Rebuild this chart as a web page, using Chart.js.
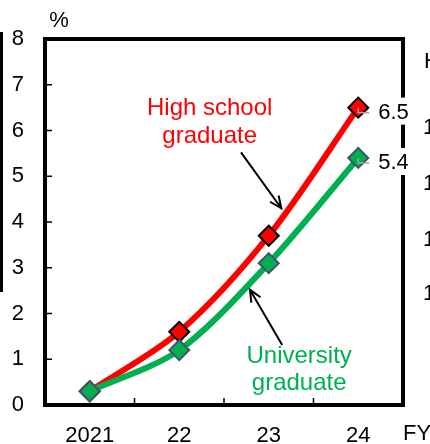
<!DOCTYPE html>
<html>
<head>
<meta charset="utf-8">
<script src="https://cdn.jsdelivr.net/npm/chart.js@4/dist/chart.umd.min.js"></script>
<style>
  html, body { margin: 0; padding: 0; background: #fff; }
  #wrap { position: relative; width: 430px; height: 444px; }
</style>
</head>
<body>
<div id="wrap"><canvas id="c"></canvas></div>
<script>
// ---- data ----
const categories = ['2021', '22', '23', '24'];
const highSchool = [0.3, 1.6, 3.7, 6.5];
const university = [0.3, 1.2, 3.1, 5.4];
const yTickValues = [0, 1, 2, 3, 4, 5, 6, 7, 8];
const seriesNames = [['High school', 'graduate'], ['University', 'graduate']];
const unitLabel = '%';
const xUnitLabel = 'FY';

const RED = '#FF0000';
const GREEN = '#00B050';
const FONT = '"Liberation Sans", Arial, sans-serif';

function arrow(ctx, x1, y1, x2, y2) {
  const ang = Math.atan2(y2 - y1, x2 - x1);
  const hl = 13, ha = 0.42;
  ctx.beginPath();
  ctx.moveTo(x1, y1);
  ctx.lineTo(x2, y2);
  ctx.moveTo(x2 - hl * Math.cos(ang - ha), y2 - hl * Math.sin(ang - ha));
  ctx.lineTo(x2, y2);
  ctx.lineTo(x2 - hl * Math.cos(ang + ha), y2 - hl * Math.sin(ang + ha));
  ctx.stroke();
}

const decor = {
  id: 'decor',
  afterDraw(chart) {
    const ctx = chart.ctx;
    const xs = chart.scales.x, ys = chart.scales.y;
    const a = chart.chartArea;
    ctx.save();
    // frame top & right
    ctx.strokeStyle = '#000';
    ctx.lineWidth = 4;
    ctx.lineCap = 'square';
    ctx.beginPath();
    ctx.moveTo(a.left, a.top);
    ctx.lineTo(a.right, a.top);
    ctx.lineTo(a.right, a.bottom);
    ctx.stroke();
    // inward y ticks
    ctx.lineWidth = 1.5;
    ctx.lineCap = 'butt';
    ctx.beginPath();
    for (let v = 1; v < yTickValues.length - 1; v++) {
      const y = ys.getPixelForValue(yTickValues[v]);
      ctx.moveTo(a.left, y);
      ctx.lineTo(a.left + 7, y);
    }
    // inward x ticks between categories
    for (let i = 0; i < categories.length - 1; i++) {
      const x = (xs.getPixelForValue(i) + xs.getPixelForValue(i + 1)) / 2;
      ctx.moveTo(x, a.bottom);
      ctx.lineTo(x, a.bottom - 7);
    }
    ctx.stroke();

    // unit labels
    ctx.fillStyle = '#000';
    ctx.font = '22px ' + FONT;
    ctx.textBaseline = 'middle';
    ctx.textAlign = 'center';
    ctx.fillText(unitLabel, 59, 21);
    ctx.textAlign = 'left';
    ctx.fillText(xUnitLabel, 403, 434);

    // left bar & neighbouring panel fragments
    ctx.fillRect(0, 32, 3, 260);
    ctx.font = '22px ' + FONT;
    ctx.fillText('H', 424, 62);
    [128, 184, 240, 294].forEach(y => ctx.fillText('1', 423, y));

    // end labels
    const last = categories.length - 1;
    [highSchool, university].forEach(arr => {
      const px = xs.getPixelForValue(last);
      const py = ys.getPixelForValue(arr[last]);
      ctx.fillStyle = '#fff';
      ctx.fillRect(px + 17, py - 10, 38, 27);
      ctx.strokeStyle = '#A6A6A6';
      ctx.lineWidth = 1.5;
      ctx.beginPath();
      ctx.moveTo(px, py);
      ctx.lineTo(px, py + 5);
      ctx.lineTo(px + 11, py + 5);
      ctx.stroke();
      ctx.fillStyle = '#000';
      ctx.textAlign = 'left';
      ctx.font = '22px ' + FONT;
      ctx.fillText(arr[last].toFixed(1), px + 20, py + 5);
    });

    // annotations (placed in data units)
    ctx.font = '24px ' + FONT;
    ctx.textAlign = 'center';
    ctx.fillStyle = RED;
    ctx.fillText(seriesNames[0][0], xs.getPixelForValue(1.34), ys.getPixelForValue(6.48));
    ctx.fillText(seriesNames[0][1], xs.getPixelForValue(1.34), ys.getPixelForValue(5.88));
    ctx.fillStyle = GREEN;
    ctx.fillText(seriesNames[1][0], xs.getPixelForValue(2.34), ys.getPixelForValue(1.07));
    ctx.fillText(seriesNames[1][1], xs.getPixelForValue(2.34), ys.getPixelForValue(0.47));

    ctx.strokeStyle = '#000';
    ctx.lineWidth = 2;
    ctx.lineCap = 'butt';
    arrow(ctx, xs.getPixelForValue(1.69), ys.getPixelForValue(5.52),
               xs.getPixelForValue(2.14), ys.getPixelForValue(4.30));
    arrow(ctx, xs.getPixelForValue(2.15), ys.getPixelForValue(1.31),
               xs.getPixelForValue(1.79), ys.getPixelForValue(2.52));
    ctx.restore();
  }
};

new Chart(document.getElementById('c'), {
  type: 'line',
  data: {
    labels: categories,
    datasets: [
      {
        data: highSchool,
        borderColor: RED,
        borderWidth: 6,
        tension: 0.3,
        pointStyle: 'rectRot',
        pointRadius: 10,
        pointBackgroundColor: RED,
        pointBorderColor: '#000',
        pointBorderWidth: 2,
        order: 2
      },
      {
        data: university,
        borderColor: GREEN,
        borderWidth: 6,
        tension: 0.3,
        pointStyle: 'rectRot',
        pointRadius: 10,
        pointBackgroundColor: GREEN,
        pointBorderColor: '#44546A',
        pointBorderWidth: 2,
        order: 1
      }
    ]
  },
  options: {
    responsive: true,
    maintainAspectRatio: false,
    animation: false,
    devicePixelRatio: 1,
    layout: { padding: { top: 39, right: 27, left: 0, bottom: 0 } },
    plugins: { legend: { display: false }, tooltip: { enabled: false } },
    scales: {
      x: {
        type: 'category',
        offset: true,
        grid: { display: false, drawTicks: false },
        border: { display: true, color: '#000', width: 4 },
        ticks: { color: '#000', font: { family: FONT, size: 22 }, padding: 18, maxRotation: 0 },
        afterFit(s) { s.height = 39; }
      },
      y: {
        min: 0, max: 8,
        afterBuildTicks(s) { s.ticks = yTickValues.map(v => ({ value: v })); },
        grid: { display: false, drawTicks: false },
        border: { display: true, color: '#000', width: 4 },
        ticks: { color: '#000', font: { family: FONT, size: 22 }, padding: 21 },
        afterFit(s) { s.width = 45; }
      }
    }
  },
  plugins: [decor]
});
</script>
</body>
</html>
